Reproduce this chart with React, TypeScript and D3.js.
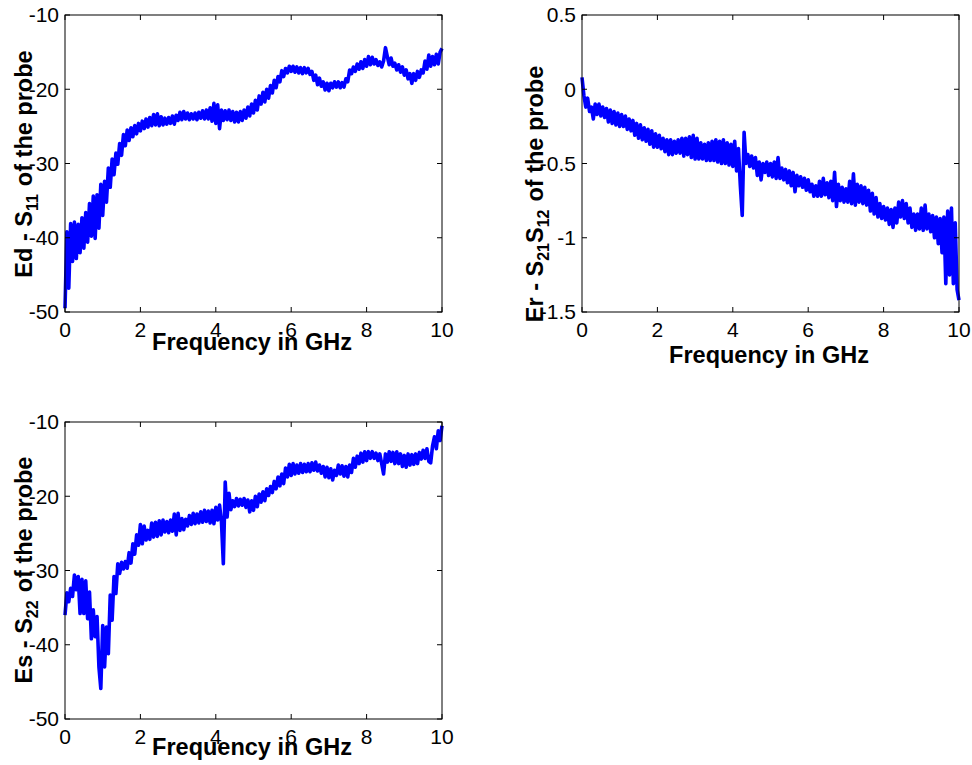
import React from "react";
import * as d3 from "d3";

// frequency grid in GHz, 0.05 GHz steps
const freq = d3.range(201).map((i) => i / 20);

const freqTicks = [0, 2, 4, 6, 8, 10];
const dbTicks = [-50, -40, -30, -20, -10];
const erTicks = [-1.5, -1, -0.5, 0, 0.5];

// Ed - S11 (dB)
const edValues = [
  -49.5, -39.2, -46.8, -38.1, -43.2, -37.9, -42.8, -38.2, -42.0, -37.3,
  -41.4, -36.6, -40.6, -35.4, -39.8, -34.4, -40.1, -34.2, -38.7, -32.8,
  -37.0, -32.4, -35.2, -30.6, -33.2, -29.4, -31.5, -28.6, -30.1, -27.3,
  -28.9, -26.1, -27.6, -25.5, -26.9, -25.2, -26.4, -24.9, -26.0, -24.6,
  -25.6, -24.3, -25.3, -24.0, -25.1, -23.8, -24.9, -23.4, -24.8, -23.3,
  -24.9, -23.7, -24.8, -23.9, -24.7, -23.8, -24.6, -23.6, -24.7, -23.5,
  -24.2, -23.1, -24.1, -23.0, -24.0, -23.2, -24.1, -23.3, -24.0, -23.2,
  -24.1, -23.1, -23.9, -22.9, -24.0, -22.8, -24.0, -22.5, -24.3, -21.9,
  -24.6, -22.1, -25.3, -22.8, -24.2, -22.9, -24.1, -22.8, -24.2, -23.0,
  -24.4, -23.1, -24.4, -23.0, -24.2, -22.8, -23.9, -22.4, -23.6, -22.0,
  -23.2, -21.5, -22.8, -20.9, -22.0, -20.4, -21.7, -20.0, -21.2, -19.5,
  -20.5, -18.8, -19.8, -18.3, -19.0, -17.5, -18.3, -17.2, -17.8, -16.9,
  -17.6, -16.9, -17.7, -17.0, -17.8, -17.1, -17.9, -17.1, -17.8, -17.2,
  -18.0, -17.6, -18.8, -18.1, -19.4, -18.5, -19.6, -19.0, -20.1, -19.2,
  -20.2, -19.2, -19.8, -19.0, -19.7, -19.0, -19.8, -19.1, -19.7, -18.6,
  -19.0, -17.4, -17.9, -17.0, -17.6, -16.6, -17.3, -16.3, -17.2, -16.0,
  -16.9, -15.6, -16.7, -15.7, -16.6, -16.0, -16.8, -16.3, -17.0, -16.2,
  -14.4, -15.6, -16.7, -15.8, -16.9, -16.5, -17.4, -16.7, -17.7, -17.0,
  -18.1, -17.4, -18.6, -17.9, -19.2, -17.9, -18.8, -17.6, -18.4, -17.4,
  -17.8, -16.2, -17.3, -15.4, -16.9, -15.6, -16.7, -15.3, -16.6, -15.0,
  -14.5,
];

// Er - S21 S12 (linear)
const erValues = [
  0.08, -0.04, -0.12, -0.06, -0.15, -0.12, -0.2, -0.1, -0.17, -0.1,
  -0.18, -0.12, -0.19, -0.13, -0.22, -0.14, -0.23, -0.15, -0.24, -0.16,
  -0.25, -0.17, -0.25, -0.18, -0.27, -0.2, -0.28, -0.21, -0.31, -0.23,
  -0.33, -0.24, -0.34, -0.26, -0.35, -0.27, -0.37, -0.28, -0.39, -0.3,
  -0.39, -0.31, -0.4, -0.33, -0.42, -0.34, -0.44, -0.34, -0.44, -0.35,
  -0.43, -0.34, -0.43, -0.33, -0.45, -0.33, -0.44, -0.32, -0.46, -0.31,
  -0.47, -0.33, -0.47, -0.36, -0.47, -0.37, -0.48, -0.36, -0.48, -0.35,
  -0.48, -0.34, -0.49, -0.35, -0.5, -0.34, -0.5, -0.36, -0.51, -0.37,
  -0.52, -0.35, -0.55, -0.4, -0.65, -0.85, -0.29, -0.5, -0.44, -0.52,
  -0.45, -0.53, -0.46, -0.58, -0.49, -0.61, -0.5, -0.56, -0.49, -0.58,
  -0.5, -0.59, -0.49, -0.6, -0.46, -0.6, -0.53, -0.61, -0.54, -0.63,
  -0.55, -0.65, -0.56, -0.69, -0.58, -0.65, -0.59, -0.66, -0.6, -0.68,
  -0.61, -0.69, -0.64, -0.72, -0.65, -0.72, -0.62, -0.72, -0.6, -0.71,
  -0.63, -0.73, -0.62, -0.75, -0.56, -0.79, -0.64, -0.75, -0.66, -0.76,
  -0.67, -0.76, -0.62, -0.77, -0.57, -0.78, -0.64, -0.76, -0.65, -0.77,
  -0.66, -0.78, -0.68, -0.82, -0.7, -0.84, -0.73, -0.86, -0.77, -0.87,
  -0.79, -0.88, -0.8, -0.91, -0.81, -0.93, -0.8, -0.9, -0.76, -0.86,
  -0.75, -0.87, -0.77, -0.9, -0.8, -0.93, -0.84, -0.95, -0.84, -0.94,
  -0.8, -0.95, -0.78, -0.94, -0.84, -0.96, -0.85, -1.0, -0.86, -1.04,
  -0.87, -1.1, -0.86, -1.31, -0.82, -1.25, -0.8, -1.31, -0.9, -1.35,
  -1.42,
];

// Es - S22 (dB)
const esValues = [
  -36.0, -33.0, -34.2, -32.4, -33.5, -30.6, -32.6, -30.8, -35.8, -31.2,
  -35.8, -31.4, -36.5, -32.9, -39.2, -35.3, -38.9, -36.2, -43.0, -45.9,
  -37.4, -43.0, -37.6, -41.2, -33.3, -36.7, -30.8, -33.1, -29.1, -30.4,
  -28.9, -29.8, -28.8, -29.7, -27.6, -29.0, -26.4, -27.8, -25.2, -26.6,
  -23.8, -26.4, -24.0, -25.9, -24.6, -25.8, -23.6, -25.5, -23.5, -25.4,
  -23.3, -25.2, -23.2, -24.8, -23.4, -24.9, -23.2, -24.7, -22.4, -25.2,
  -22.3, -24.6, -23.0, -24.5, -23.1, -24.0, -22.6, -23.8, -22.3, -23.7,
  -22.4, -23.6, -22.1, -23.5, -21.9, -23.4, -22.0, -23.6, -21.9, -23.7,
  -21.5, -23.2, -21.2, -23.5, -29.1, -18.1, -22.8, -19.6, -21.8, -20.6,
  -21.4, -20.3, -21.3, -20.4, -21.2, -20.3, -21.5, -20.5, -22.1, -20.6,
  -21.9, -20.0, -21.4, -19.7, -20.8, -19.4, -20.6, -19.0, -19.9, -18.7,
  -19.5, -18.0, -19.0, -17.4, -18.6, -17.0, -18.3, -16.2, -17.4, -15.7,
  -17.2, -15.6, -17.0, -15.8, -16.9, -15.6, -16.8, -15.7, -16.7, -15.6,
  -16.7, -15.5, -16.5, -15.4, -16.6, -15.8, -16.9, -16.0, -17.4, -16.1,
  -17.5, -16.3, -17.8, -16.5, -17.2, -15.8, -17.0, -15.9, -17.3, -16.0,
  -17.4, -15.8, -16.8, -14.9, -16.1, -14.6, -15.6, -14.2, -15.4, -14.0,
  -15.2, -14.0, -14.9, -14.0, -14.9, -14.2, -15.2, -14.3, -15.6, -17.0,
  -14.3, -15.4, -14.0, -15.3, -14.1, -15.6, -14.0, -15.6, -14.3, -16.0,
  -14.5, -16.1, -14.3, -15.8, -14.4, -15.7, -14.3, -15.6, -14.1, -15.0,
  -13.8, -14.9, -13.6, -15.3, -15.5, -13.2, -12.0, -13.6, -11.2, -12.5,
  -10.5,
];

const font = "'Liberation Sans', Arial, Helvetica, sans-serif";

function Panel({ left, top, width, height, yDomain, yTicks, values, xLabelPos, yLabelPos, yLabel }) {
  const x = d3.scaleLinear().domain([0, 10]).range([left, left + width]);
  const y = d3.scaleLinear().domain(yDomain).range([top + height, top]);
  const line = d3
    .line<number>()
    .x((d, i) => x(freq[i]))
    .y((d) => y(d));
  const tk = 5;

  return (
    <g>
      <path d={line(values) || ""} fill="none" stroke="#0000ff" strokeWidth={3.6} strokeLinejoin="round" />
      <rect x={left} y={top} width={width} height={height} fill="none" stroke="#000" strokeWidth={1} />
      {freqTicks.map((t) => (
        <g key={"x" + t}>
          <line x1={x(t)} x2={x(t)} y1={top + height} y2={top + height - tk} stroke="#000" />
          <line x1={x(t)} x2={x(t)} y1={top} y2={top + tk} stroke="#000" />
          <text x={x(t)} y={top + height + 25} textAnchor="middle" fontSize={21} fontFamily={font}>
            {t}
          </text>
        </g>
      ))}
      {yTicks.map((t) => (
        <g key={"y" + t}>
          <line x1={left} x2={left + tk} y1={y(t)} y2={y(t)} stroke="#000" />
          <line x1={left + width} x2={left + width - tk} y1={y(t)} y2={y(t)} stroke="#000" />
          <text x={left - 6} y={y(t)} dy="0.35em" textAnchor="end" fontSize={21} fontFamily={font}>
            {String(t)}
          </text>
        </g>
      ))}
      <text x={xLabelPos[0]} y={xLabelPos[1]} textAnchor="middle" fontSize={23.5} fontWeight="bold" fontFamily={font}>
        Frequency in GHz
      </text>
      <text
        transform={`translate(${yLabelPos[0]},${yLabelPos[1]}) rotate(-90)`}
        textAnchor="middle"
        fontSize={23.5}
        fontWeight="bold"
        fontFamily={font}
      >
        {yLabel}
      </text>
    </g>
  );
}

export default function App() {
  return (
    <svg width={972} height={765} style={{ position: "absolute", left: 0, top: 0, background: "#fff" }}>
      <Panel
        left={65}
        top={15}
        width={377}
        height={297}
        yDomain={[-50, -10]}
        yTicks={dbTicks}
        values={edValues}
        xLabelPos={[252, 350]}
        yLabelPos={[32, 164]}
        yLabel={
          <>
            Ed - S
            <tspan fontSize={16} dy={6}>11</tspan>
            <tspan dy={-6} dx={8}>of the probe</tspan>
          </>
        }
      />
      <Panel
        left={582}
        top={15}
        width={377}
        height={297}
        yDomain={[-1.5, 0.5]}
        yTicks={erTicks}
        values={erValues}
        xLabelPos={[769, 363]}
        yLabelPos={[543, 194]}
        yLabel={
          <>
            Er - S
            <tspan fontSize={16} dy={6}>21</tspan>
            <tspan dy={-6}>S</tspan>
            <tspan fontSize={16} dy={6}>12</tspan>
            <tspan dy={-6} dx={8}>of the probe</tspan>
          </>
        }
      />
      <Panel
        left={65}
        top={422}
        width={377}
        height={297}
        yDomain={[-50, -10]}
        yTicks={dbTicks}
        values={esValues}
        xLabelPos={[252, 755]}
        yLabelPos={[32, 570]}
        yLabel={
          <>
            Es - S
            <tspan fontSize={16} dy={6}>22</tspan>
            <tspan dy={-6} dx={8}>of the probe</tspan>
          </>
        }
      />
    </svg>
  );
}
